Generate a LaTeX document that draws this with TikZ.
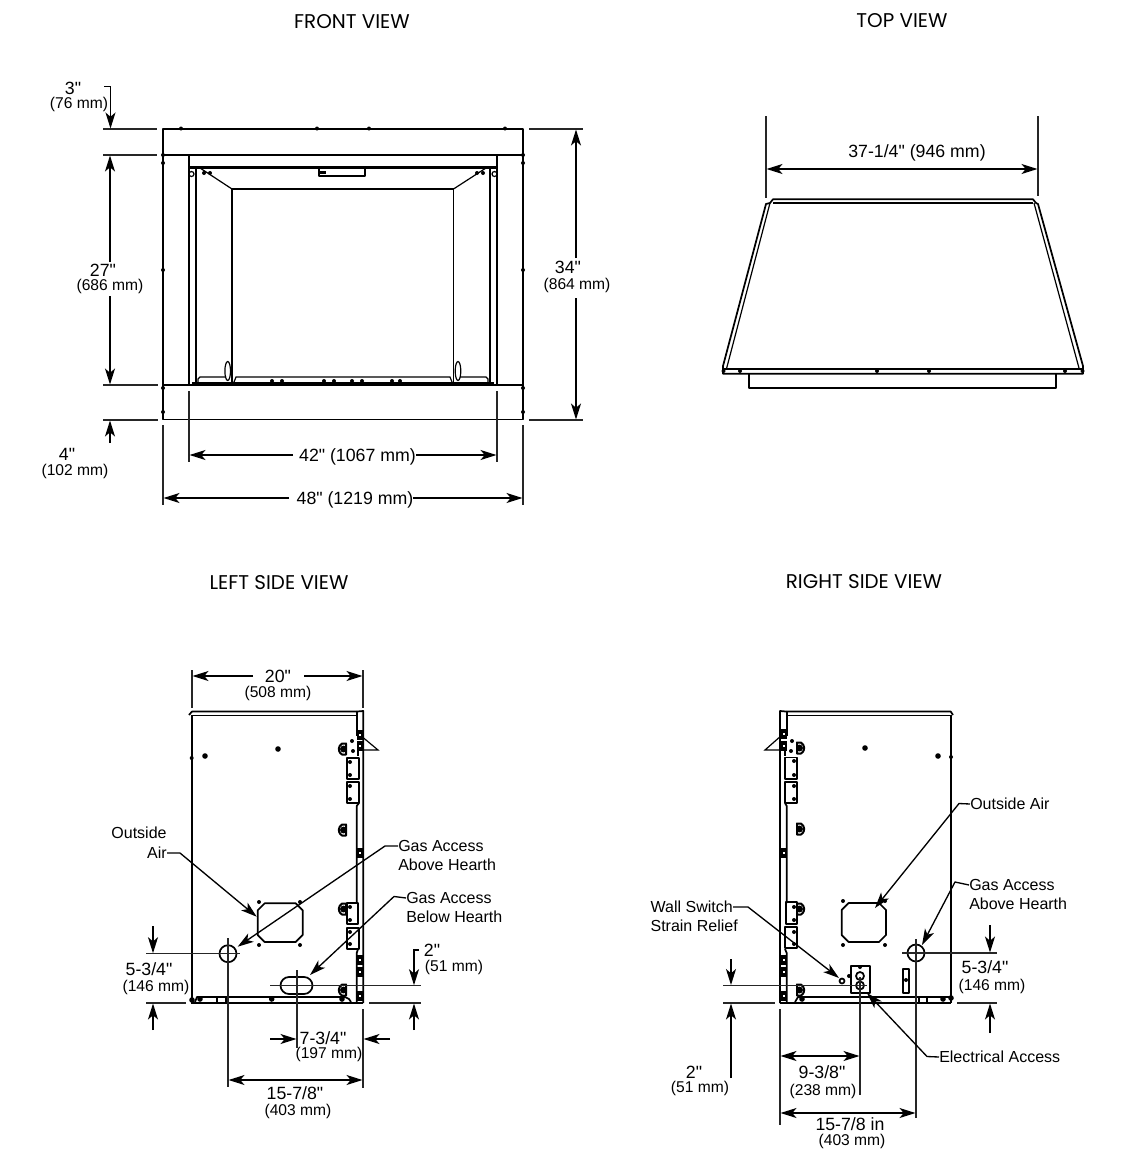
\documentclass[tikz,border=0pt]{standalone}
\usepackage{fontspec}
\newfontfamily\labfont{Liberation Sans}
\newfontfamily\titlefont{Poppins}
\usetikzlibrary{arrows.meta}
\tikzset{
  tip/.tip={Stealth[length=12pt,width=7.5pt,inset=3.2pt]},
  extl/.style={line width=1pt,black!85},
  dimarr/.style={line width=1pt,-tip},
  lead/.style={line width=1pt,-tip,line join=miter},
  thin part/.style={line width=0.9pt},
  part/.style={line width=1.3pt,line join=round},
  heavy/.style={line width=2.1pt},
  bigl/.style={inner sep=0pt,text height=9.6pt,text depth=0pt,font=\labfont\fontsize{13.3}{15}\selectfont},
  smalll/.style={inner sep=0pt,text height=8.4pt,text depth=0pt,font=\labfont\fontsize{11.7}{14}\selectfont},
  calll/.style={inner sep=0pt,text height=8.6pt,text depth=0pt,font=\labfont\fontsize{12}{14}\selectfont},
  viewtitle/.style={inner sep=0pt,text height=10.4pt,text depth=0pt,font=\titlefont\fontsize{14.9}{17}\selectfont},
}
\newcommand{\dimA}[3]{\coordinate (#1-a) at (#2);\coordinate (#1-b) at (#3);\draw[dimarr] (#1-a) -- (#1-b);}
\newcommand{\extL}[3]{\coordinate (#1-a) at (#2);\coordinate (#1-b) at (#3);\draw[extl] (#1-a) -- (#1-b);}
\newcommand{\dotS}[2]{\fill (#1,#2) circle[radius=1.5pt];}
\newcommand{\dotM}[2]{\fill (#1,#2) circle[radius=2.1pt];}
\newcommand{\blobS}[2]{\fill (#1-3,#2-5) rectangle (#1+3,#2+5);\fill[white] (#1-0.8,#2-0.8) rectangle (#1+0.8,#2+0.8);}
\newcommand{\dR}[2]{\draw[part,line width=1.5pt] (#1-3,#2-5.5) -- (#1-3,#2+5.5) -- (#1+1,#2+5.5) arc[start angle=60,end angle=-60,radius=6.3] -- cycle;\fill (#1-0.5,#2) circle[radius=2.6pt];}
\newcommand{\dL}[2]{\draw[part,line width=1.5pt] (#1+3,#2-5.5) -- (#1+3,#2+5.5) -- (#1-1,#2+5.5) arc[start angle=120,end angle=240,radius=6.3] -- cycle;\fill (#1+0.5,#2) circle[radius=2.6pt];}
\newcommand{\octa}[4]{\draw[part] (#1+7,#2) -- (#3-7,#2) -- (#3,#2+7) -- (#3,#4-7) -- (#3-7,#4) -- (#1+7,#4) -- (#1,#4-7) -- (#1,#2+7) -- cycle;}
\begin{document}
\begin{tikzpicture}[x=0.75pt,y=-0.75pt]
\useasboundingbox[fill=white] (0,0) rectangle (1142,1154);
% titles
\node[viewtitle] (tfront) at (352,22) {FRONT VIEW};
\node[viewtitle] (ttop) at (902,21) {TOP VIEW};
\node[viewtitle] (tleft) at (279,583) {LEFT SIDE VIEW};
\node[viewtitle] (tright) at (864,582) {RIGHT SIDE VIEW};

%%%%%% FRONT VIEW
\draw[part] (163,129) rectangle (523,419.5);
\draw[heavy] (163,155) -- (523,155);
\draw[heavy] (163,385) -- (523,385);
\draw[line width=1.7pt] (189,155) -- (189,385);
\draw[line width=1.7pt] (497,155) -- (497,385);
\draw[line width=1.7pt] (189,167.5) -- (497,167.5);
\draw[part] (196,167.5) -- (196,382);
\draw[part] (490,167.5) -- (490,382);
\draw[part] (232,189) -- (232,382);
\draw[part] (453.5,189) -- (453.5,382);
\draw[part] (232,189) -- (453.5,189);
\draw[thin part] (200,168) -- (232,189);
\draw[thin part] (486,168) -- (453.5,189);
\draw[part] (319,168) rectangle (365,176);
\fill (320,171) rectangle (326,174);
\draw[thin part] (198,383) -- (198,379) -- (200,377) -- (226,377);
\draw[thin part] (488,383) -- (488,379) -- (486,377) -- (460,377);
\draw[thin part] (234,382) -- (236,377) -- (450,377) -- (452,382);
\draw[line width=1.3pt] (192,383) -- (494,383);
\draw[thin part] (227.7,371) ellipse[x radius=2.8,y radius=9.5];
\draw[thin part] (458,371) ellipse[x radius=2.8,y radius=9.5];
\foreach \x in {181,317,369,505} {\dotS{\x}{128.5}}
\foreach \x in {163,523} {\dotS{\x}{155}\dotS{\x}{163}\dotS{\x}{270}\dotS{\x}{388}\dotS{\x}{412}}
\foreach \x in {272,282,324,334,352,362,392,400} {\dotS{\x}{381}}
\foreach \x in {204,210,477,483} {\dotS{\x}{173}}
\draw[thin part] (191.5,174) circle[radius=2.5];
\draw[thin part] (494.5,174) circle[radius=2.5];
% front dims
\extL{e1}{103,129}{157,129}
\extL{e2}{103,155}{157,155}
\extL{e3}{103,385}{158,385}
\extL{e4}{103,420}{158,420}
\extL{e5}{529,129}{583,129}
\extL{e6}{529,420}{583,420}
\extL{e7}{189,391}{189,462}
\extL{e8}{497,391}{497,462}
\extL{e9}{163,425}{163,505}
\extL{e10}{523,425}{523,505}
\node[bigl] (l3) at (73,88) {3"};
\node[smalll] (l3b) at (79,103) {(76 mm)};
\coordinate (h3) at (104,86.5);
\coordinate (h3b) at (110.5,86.5);
\coordinate (h3c) at (110.5,128.5);
\draw[dimarr] (h3) -- (h3b) -- (h3c);
\node[bigl] (l27) at (103,270) {27"};
\node[smalll] (l27b) at (110,285) {(686 mm)};
\dimA{d27u}{110,262}{110,155.5}
\dimA{d27d}{110,296}{110,384.5}
\node[bigl] (l4) at (67,454) {4"};
\node[smalll] (l4b) at (75,470) {(102 mm)};
\dimA{d4}{110,443}{110,420.5}
\node[bigl] (l34) at (568,267) {34"};
\node[smalll] (l34b) at (577,284) {(864 mm)};
\dimA{d34u}{576,258}{576,129.5}
\dimA{d34d}{576,298}{576,419.5}
\node[bigl] (l42) at (357.5,455) {42" (1067 mm)};
\dimA{d42l}{293,455}{189.5,455}
\dimA{d42r}{416,455}{496.5,455}
\node[bigl] (l48) at (355,498) {48" (1219 mm)};
\dimA{d48l}{289,498}{163.5,498}
\dimA{d48r}{413,498}{522.5,498}

%%%%%% TOP VIEW
\extL{t1}{766,116}{766,198}
\extL{t2}{1038,116}{1038,196}
\node[bigl] (l37) at (917,151) {37-1/4" (946 mm)};
\coordinate (d37-a) at (766.5,169);
\coordinate (d37-b) at (1037.5,169);
\draw[line width=1pt,tip-tip] (d37-a) -- (d37-b);
\draw[part] (766,204) -- (770,203) -- (773,199.3) -- (1033,199.3) -- (1036,203) -- (1038,204) -- (1083,366) -- (1083,373.7) -- (723,373.7) -- (723,366) -- cycle;
\draw[thin part] (773,203) -- (1033,203);
\draw[thin part] (770,203) -- (726.7,368);
\draw[thin part] (1034,203) -- (1079,368);
\draw[heavy] (723,369) -- (1083,369);
\draw[part] (749.3,374) -- (749.3,388) -- (1056,388) -- (1056,374);
\foreach \x in {723.5,740,877,929,1065,1082.5} {\dotS{\x}{371}}

%%%%%% LEFT SIDE VIEW
\draw[part] (192,1003) -- (192,715);
\draw[part] (189,715) -- (192,711.5) -- (357,711.5);
\draw[line width=1.4pt] (192,715.5) -- (357,715.5);
\draw[part] (357,711.5) -- (363.3,711) -- (363.3,1003);
\draw[part] (356.7,711.5) -- (356.7,736);
\draw[part] (358,742) -- (358,756);
\draw[part] (359,803) -- (356.7,806) -- (356.7,903);
\draw[part] (358,949) -- (356.7,953) -- (356.7,1003);
\draw[thin part] (360,735) -- (378,750) -- (363,750);
\draw[part,line width=1.5pt] (191,1003) -- (363.3,1003);
\draw[part] (195,1002) -- (197,997) -- (345,997) -- (349,999) -- (351,1002);
\draw[part] (216.7,997) rectangle (226,1003);
\draw[part] (346.7,758) rectangle (359,779);
\draw[part] (346.7,782) rectangle (359,803);
\draw[part] (346.7,903.3) rectangle (358,924);
\draw[part] (346.7,927.7) rectangle (359,949);
\foreach \y in {762,775,786,799,907,920,932,944} {\dotS{350}{\y}}
\dotM{205}{756}\dotM{278}{749}\dotS{191.7}{758}
\dotS{352}{741}\dotS{353}{751}
\dotM{200}{999}\dotM{271.7}{999}\dotM{342}{999}\dotM{192}{1000}
\blobS{360}{735}\blobS{360}{746}\blobS{360}{853}\blobS{360}{960}\blobS{360}{972}\blobS{360}{996}
\dL{343}{749}\dL{343}{830}\dL{343}{909}\dL{343}{990}
\octa{257.7}{903.3}{302.7}{942}
\dotS{259}{902}\dotS{300}{902}\dotS{259}{945}\dotS{300}{945}
\draw[part] (228,953.7) circle[radius=8.5];
\draw[part] (289,977) -- (304,977) arc[start angle=-90,end angle=90,radius=8.5] -- (289,994) arc[start angle=90,end angle=270,radius=8.5] -- cycle;
% left dims
\extL{f1}{192,670}{192,708}
\extL{f2}{363,670}{363,708}
\extL{f3}{146,953.7}{240,953.7}
\extL{f4}{228,938}{228,1087}
\extL{f5}{270,985.7}{421,985.7}
\extL{f6}{297,970}{297,1048}
\extL{f7}{146,1003}{186,1003}
\extL{f8}{369,1003}{421,1003}
\extL{f9}{363,1009}{363,1088}
\node[bigl] (l20) at (278,676) {20"};
\node[smalll] (l20b) at (278,692) {(508 mm)};
\dimA{d20l}{253,676}{192.5,676}
\dimA{d20r}{304,676}{362.5,676}
\node[bigl] (l534) at (149,969) {5-3/4"};
\node[smalll] (l534b) at (156,986) {(146 mm)};
\dimA{d53u}{153,926}{153,953.2}
\dimA{d53d}{153,1030}{153,1003.5}
\node[bigl] (l2) at (432,950) {2"};
\node[smalll] (l2b) at (454,966) {(51 mm)};
\coordinate (h2) at (419,950);
\coordinate (h2b) at (414,950);
\coordinate (h2c) at (414,985.2);
\draw[dimarr] (h2) -- (h2b) -- (h2c);
\dimA{d2d}{414,1030}{414,1003.5}
\node[bigl] (l734) at (323,1038) {7-3/4"};
\node[smalll] (l734b) at (329,1053) {(197 mm)};
\dimA{d73l}{270,1039}{296.5,1039}
\dimA{d73r}{390,1039}{363.5,1039}
\coordinate (d15-a) at (228.5,1080);
\coordinate (d15-b) at (362.5,1080);
\draw[line width=1pt,tip-tip] (d15-a) -- (d15-b);
\node[bigl] (l1578) at (295,1093) {15-7/8"};
\node[smalll] (l1578b) at (298,1110) {(403 mm)};
% left callouts
\node[calll] (coa1) at (139,833) {Outside};
\node[calll,anchor=east] (coa2) at (167,853) {Air};
\coordinate (coaK) at (180,853);
\coordinate (coaT) at (256.7,916.7);
\draw[lead] (coa2.east) -- (coaK) -- (coaT);
\node[calll,anchor=west] (cga1) at (398,846) {Gas Access};
\node[calll,anchor=west] (cga2) at (398,865) {Above Hearth};
\coordinate (cgaK) at (385,846);
\coordinate (cgaT) at (237.7,946.7);
\draw[lead] (cga1.west) -- (cgaK) -- (cgaT);
\node[calll,anchor=west] (cgb1) at (406,898) {Gas Access};
\node[calll,anchor=west] (cgb2) at (406,917) {Below Hearth};
\coordinate (cgbK) at (394,896.5);
\coordinate (cgbT) at (310,975);
\draw[lead] (cgb1.west) -- (cgbK) -- (cgbT);

%%%%%% RIGHT SIDE VIEW
\draw[part] (950.7,1003) -- (950.7,715);
\draw[part] (953,715) -- (950.7,711.5) -- (786,711.5);
\draw[line width=1.4pt] (786,715.5) -- (950.7,715.5);
\draw[part] (786,711.5) -- (780,711) -- (780,1003);
\draw[part] (786.7,711.5) -- (786.7,736);
\draw[part] (785,742) -- (785,756);
\draw[part] (785,803) -- (786.7,806) -- (786.7,903);
\draw[part] (785,949) -- (786.7,953) -- (786.7,1003);
\draw[thin part] (782,735) -- (765,750) -- (780,750);
\draw[part,line width=1.5pt] (780,1003) -- (951,1003);
\draw[part] (795,1002) -- (798,997) -- (950,997);
\draw[part] (919,997) rectangle (927,1003);
\draw[part] (785,757.5) rectangle (797,779);
\draw[part] (785,782) rectangle (797,803);
\draw[part] (785.7,902) rectangle (797,924);
\draw[part] (785,927) rectangle (797,948);
\foreach \y in {761,775,786,799,907,920,932,944} {\dotS{794}{\y}}
\dotM{865}{748}\dotM{938}{756}\dotS{951}{757}
\dotS{792}{741}\dotS{791}{751}
\dotM{802}{999}\dotM{943}{999}\dotM{951}{998}
\blobS{784}{734}\blobS{784}{746}\blobS{784}{853}\blobS{784}{960}\blobS{784}{972}\blobS{784}{996}
\dR{800}{748}\dR{800}{829}\dR{800}{909}\dR{800}{990}
\octa{841.7}{903}{886}{942}
\dotS{843}{901}\dotS{885}{901}\dotS{843}{945}\dotS{885}{945}
\draw[part] (916,953) circle[radius=8.5];
\draw[part] (850.7,965.7) rectangle (870,993);
\draw[part] (860,976) circle[radius=4];
\draw[part] (860,985.5) circle[radius=4];
\draw[part] (842,981) circle[radius=2.5];
\draw[part] (903,969) rectangle (909,993);
\dotS{906}{980}\dotS{860}{967}\dotS{849}{976}
% right dims
\extL{g1}{902,953}{997,953}
\extL{g2}{916,939}{916,1118}
\extL{g3}{723,985.5}{867,985.5}
\extL{g4}{860,977}{860,1095}
\extL{g5}{723,1003}{775,1003}
\extL{g6}{957,1003}{997,1003}
\extL{g7}{780,1009}{780,1125}
\dimA{r2u}{731,959}{731,985}
\dimA{r2d}{731,1078}{731,1003.5}
\node[bigl] (r2) at (694,1072) {2"};
\node[smalll] (r2b) at (700,1087) {(51 mm)};
\dimA{r53u}{990,925}{990,952.5}
\dimA{r53d}{990,1033}{990,1003.5}
\node[bigl] (r534) at (985,967) {5-3/4"};
\node[smalll] (r534b) at (992,985) {(146 mm)};
\coordinate (r93-a) at (780.5,1056);
\coordinate (r93-b) at (859.5,1056);
\draw[line width=1pt,tip-tip] (r93-a) -- (r93-b);
\node[bigl] (r938) at (822,1072) {9-3/8"};
\node[smalll] (r938b) at (823,1090) {(238 mm)};
\coordinate (r15-a) at (780.5,1113);
\coordinate (r15-b) at (915.5,1113);
\draw[line width=1pt,tip-tip] (r15-a) -- (r15-b);
\node[bigl] (r1578) at (850,1124) {15-7/8 in};
\node[smalll] (r1578b) at (852,1140) {(403 mm)};
% right callouts
\node[calll,anchor=west] (roa) at (970,804) {Outside Air};
\coordinate (roaK) at (959,803.5);
\coordinate (roaT) at (875,908);
\draw[lead] (roa.west) -- (roaK) -- (roaT);
\node[calll,anchor=west] (rga1) at (969,885) {Gas Access};
\node[calll,anchor=west] (rga2) at (969,904) {Above Hearth};
\coordinate (rgaK) at (955,882);
\coordinate (rgaT) at (922,945);
\draw[lead] (rga1.west) -- (rgaK) -- (rgaT);
\node[calll,anchor=east] (rws1) at (733,907) {Wall Switch};
\node[calll,anchor=east] (rws2) at (738,926) {Strain Relief};
\coordinate (rwsK) at (748,907);
\coordinate (rwsT) at (839,978);
\draw[lead] (rws1.east) -- (rwsK) -- (rwsT);
\node[calll,anchor=west] (rea) at (939,1057) {Electrical Access};
\coordinate (reaK) at (927,1056.5);
\coordinate (reaT) at (867,993);
\draw[lead] (rea.west) -- (reaK) -- (reaT);
\end{tikzpicture}
\end{document}
